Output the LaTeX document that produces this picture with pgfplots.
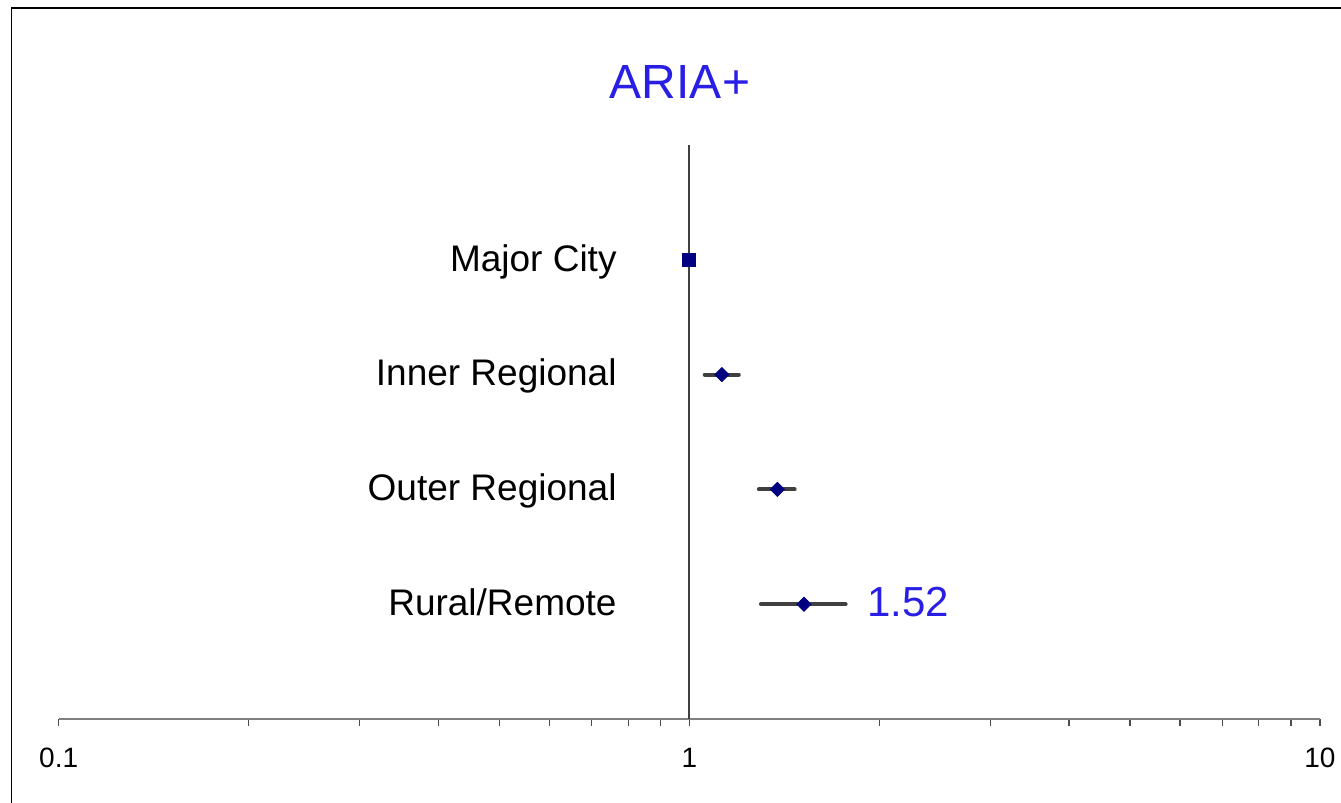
\documentclass[border=0pt]{standalone}
\usepackage{fontspec}
\setmainfont{Liberation Sans}
\usepackage{pgfplots}
\pgfplotsset{compat=1.18}

\definecolor{titleblue}{RGB}{40,30,230}
\definecolor{marknavy}{RGB}{0,0,128}
\definecolor{cigray}{RGB}{64,64,64}
\definecolor{axisgray}{RGB}{128,128,128}

\begin{document}
\begin{tikzpicture}
% page = 1341 x 803 px at 0.5pt per px
\path[use as bounding box] (0,0) rectangle (670.5pt,401.5pt);
\draw[black, line width=0.8pt] (5.8pt,-5pt) -- (5.8pt,397.6pt) -- (680pt,397.6pt);
\node[anchor=base, text=titleblue, font=\fontsize{24}{28}\selectfont] at (340pt,352pt) {ARIA+};

\begin{axis}[
    at={(29.35pt,42pt)}, anchor=south west,
    scale only axis,
    width=630.6pt, height=287pt,
    xmode=log,
    xmin=0.1, xmax=10,
    ymin=0, ymax=5,
    axis x line=bottom,
    axis y line=none,
    axis line style={-, color=axisgray, line width=1pt},
    xtick={0.1,1,10},
    xticklabels={\mbox{0.1},\mbox{1},\mbox{10}},
    tick align=outside,
    major tick length=3.5pt,
    minor tick length=3.5pt,
    every tick/.style={color=black!70, line width=0.6pt},
    xticklabel style={font=\fontsize{14}{16}\selectfont, yshift=-7.5pt},
    clip=false,
]

% reference line at 1
\addplot[color=cigray, line width=1pt] coordinates {(1,0) (1,5)};

% confidence intervals
\addplot[color=cigray, line width=2pt, line cap=round] coordinates {(1.058,3) (1.198,3)};
\addplot[color=cigray, line width=2pt, line cap=round] coordinates {(1.289,2) (1.469,2)};
\addplot[color=cigray, line width=2pt, line cap=round] coordinates {(1.299,1) (1.770,1)};

% reference category
\addplot[only marks, mark=square*, mark size=3.25pt, color=marknavy] coordinates {(1,4)};

% estimates
\addplot[only marks, mark=square*, mark size=2.5pt, mark options={rotate=45}, color=marknavy]
    coordinates {(1.126,3) (1.379,2) (1.52,1)};

\node[anchor=base east, inner sep=0pt, font=\fontsize{18.5}{22}\selectfont] at (axis cs:0.768,4) [yshift=-5.6pt] {Major City};
\node[anchor=base east, inner sep=0pt, font=\fontsize{18.5}{22}\selectfont] at (axis cs:0.768,3) [yshift=-5.6pt] {Inner Regional};
\node[anchor=base east, inner sep=0pt, font=\fontsize{18.5}{22}\selectfont] at (axis cs:0.768,2) [yshift=-5.6pt] {Outer Regional};
\node[anchor=base east, inner sep=0pt, font=\fontsize{18.5}{22}\selectfont] at (axis cs:0.768,1) [yshift=-5.6pt] {Rural/Remote};

\node[anchor=base west, inner sep=0pt, text=titleblue, font=\fontsize{21}{25}\selectfont] at (axis cs:1.914,1) [yshift=-6pt] {1.52};

\end{axis}
\end{tikzpicture}
\end{document}
